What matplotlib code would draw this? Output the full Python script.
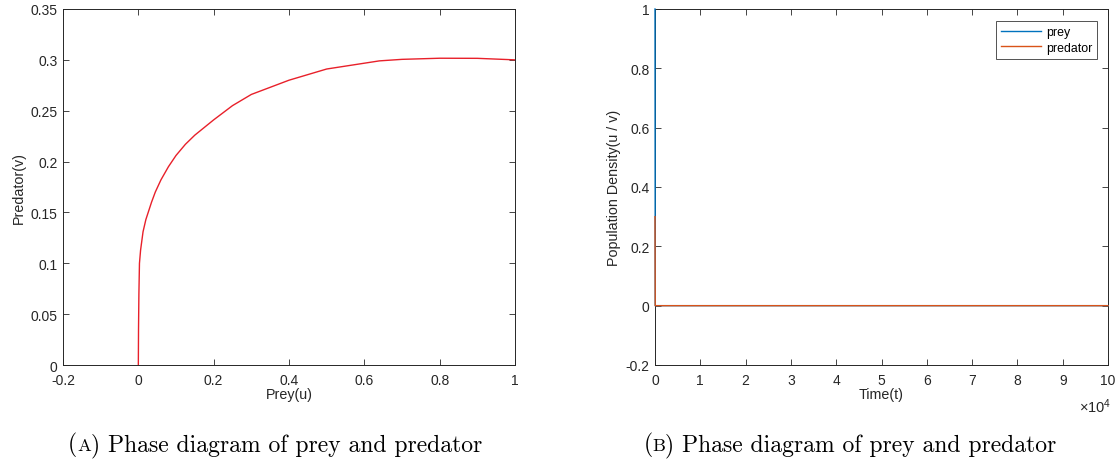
import numpy as np
import matplotlib
matplotlib.use("Agg")
import matplotlib.pyplot as plt

# phase curve (prey u, predator v)
prey_u = [1.0, 0.9, 0.8, 0.7, 0.64, 0.5, 0.4, 0.3, 0.25, 0.2, 0.15, 0.125, 0.1, 0.08,
          0.06, 0.045, 0.035, 0.02, 0.0125, 0.006, 0.003, 0.0015, 0.0005, 0.0]
pred_v = [0.300, 0.3015, 0.3016, 0.3005, 0.299, 0.291, 0.280, 0.266, 0.255, 0.241,
          0.226, 0.217, 0.206, 0.195, 0.182, 0.170, 0.160, 0.143, 0.131, 0.113,
          0.100, 0.070, 0.035, 0.0]

# time series
time_t = [0, 50, 100000]
prey_t = [1.0, 0.0, 0.0]
pred_t = [0.3, 0.0, 0.0]

plt.rcParams['font.family'] = 'Liberation Sans'
plt.rcParams['mathtext.fontset'] = 'custom'
plt.rcParams['mathtext.rm'] = 'Liberation Sans'

W, H = 1119, 464
fig = plt.figure(figsize=(W / 100, H / 100), dpi=100)
ax1 = fig.add_axes([63/W, 1 - 366/H, (515-63)/W, (366-10)/H])
ax2 = fig.add_axes([655/W, 1 - 366/H, (1108-655)/W, (366-10)/H])

tc = '#262626'
for ax in (ax1, ax2):
    ax.tick_params(direction='in', top=True, right=True, labelsize=10,
                   colors=tc, length=4.5, width=0.6, pad=4)
    ax.tick_params(axis='x', pad=6)
    for s in ax.spines.values():
        s.set_color(tc)
        s.set_linewidth(0.7)

# (A) phase diagram
ax1.plot(prey_u, pred_v, color='#e8202a', lw=1.0)
ax1.set_xlim(-0.2, 1)
ax1.set_ylim(0, 0.35)
ax1.set_xticks(np.arange(-0.2, 1.01, 0.2))
ax1.set_xticklabels(['-0.2', '0', '0.2', '0.4', '0.6', '0.8', '1'])
ax1.set_yticks(np.arange(0, 0.351, 0.05))
ax1.set_yticklabels(['0', '0.05', '0.1', '0.15', '0.2', '0.25', '0.3', '0.35'])
ax1.set_xlabel('Prey(u)', fontsize=10.3, color=tc, labelpad=0)
ax1.set_ylabel('Predator(v)', fontsize=10.3, color=tc, labelpad=3)

# (B) time series
ax2.plot(time_t, prey_t, color='#0072BD', lw=1.0, label='prey', clip_on=False, zorder=3)
ax2.plot(time_t, pred_t, color='#D95319', lw=1.0, label='predator', clip_on=False, zorder=3)
ax2.set_xlim(0, 100000)
ax2.set_ylim(-0.2, 1)
ax2.set_xticks(np.arange(0, 100001, 10000))
ax2.set_xticklabels([str(i) for i in range(11)])
ax2.set_yticks(np.arange(-0.2, 1.01, 0.2))
ax2.set_yticklabels(['-0.2', '0', '0.2', '0.4', '0.6', '0.8', '1'])
ax2.set_xlabel('Time(t)', fontsize=10.3, color=tc, labelpad=0)
ax2.set_ylabel('Population Density(u / v)', fontsize=10.3, color=tc, labelpad=3)
fig.text(1095/W, 1 - 407/H, r'$\times\mathregular{10^4}$', ha='center',
         va='center', fontsize=10.5, color=tc)
leg = ax2.legend(loc='upper right', bbox_to_anchor=(0.976, 0.966), fontsize=8.9,
                 frameon=True, fancybox=False, handlelength=3.3,
                 borderpad=0.4, labelspacing=0.3, handletextpad=0.35,
                 borderaxespad=0)
leg.get_frame().set_edgecolor(tc)
leg.get_frame().set_linewidth(0.7)

# captions with a small-caps letter
renderer = fig.canvas.get_renderer()


def caption(xc, yc, letter, rest, size=17):
    parts = [('(', size), (letter, size * 0.78), (') ' + rest, size)]
    texts = [fig.text(0, 0, s, fontsize=fs, family='cmr10', va='baseline')
             for s, fs in parts]
    widths = [t.get_window_extent(renderer).width for t in texts]
    x = xc - sum(widths) / 2
    for t, w in zip(texts, widths):
        t.set_position((x / W, 1 - yc / H))
        x += w


caption(275, 451, 'A', 'Phase diagram of prey and predator')
caption(850, 451, 'B', 'Phase diagram of prey and predator')

fig.savefig('out.png', dpi=100)
